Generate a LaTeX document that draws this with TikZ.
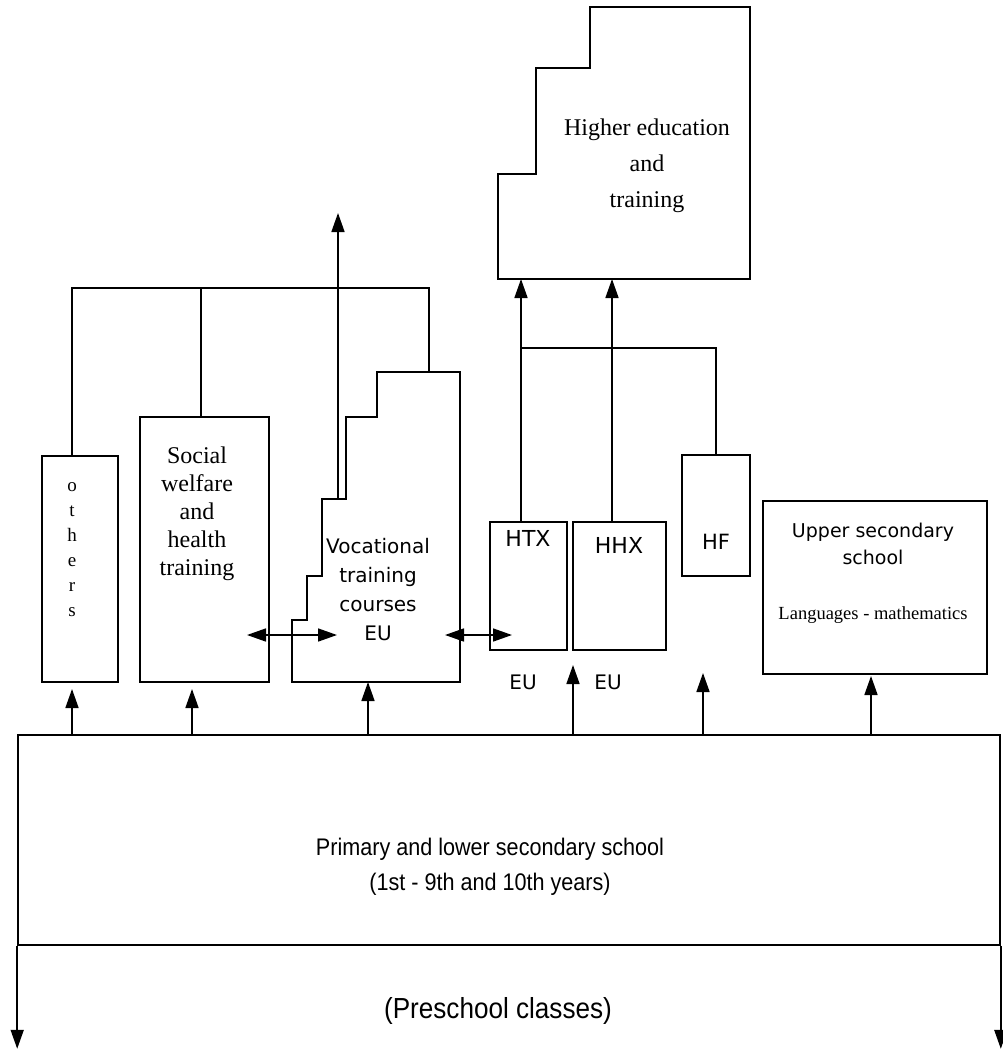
\documentclass[tikz,border=0pt]{standalone}
\usepackage{fontspec}
\setmainfont{Liberation Serif}
\newfontfamily\lucfont{DejaVu Sans}
\newfontfamily\condfont[FakeStretch=0.9]{Liberation Sans}
\usetikzlibrary{arrows.meta}

\begin{document}
\begin{tikzpicture}[x=1pt, y=-1pt, line width=1.6pt,
    every node/.style={inner sep=0pt, align=center},
    box/.style={draw, rectangle},
    arr/.style={-{Triangle[length=19pt,width=13pt]}},
    darr/.style={{Triangle[length=19pt,width=13pt]}-{Triangle[length=19pt,width=13pt]}}]
  \useasboundingbox (0,0) rectangle (1002,1049);

  % Boxes
  \node[box, minimum width=76, minimum height=226] (others) at (80,569) {};
  \node[box, minimum width=129, minimum height=265] (social) at (204.5,549.5) {};
  \node[box, minimum width=77, minimum height=128] (htx) at (528.5,586) {};
  \node[box, minimum width=93, minimum height=128] (hhx) at (619.5,586) {};
  \node[box, minimum width=68, minimum height=121] (hf) at (716,515.5) {};
  \node[box, minimum width=224, minimum height=173] (upper) at (875,587.5) {};
  \node[box, minimum width=982, minimum height=210] (main) at (509,840) {};

  % Stepped boxes
  \coordinate (hesw) at (498,279);
  \draw (hesw) -- (498,174) -- (536,174) -- (536,68) -- (590,68) -- (590,7)
    -- (750,7) -- (750,279) -- cycle;
  \coordinate (vtop) at (377,372);
  \coordinate (vstep) at (338,499);
  \draw (292,682) -- (292,620) -- (307,620) -- (307,576) -- (322,576) -- (322,499)
    -- (346,499) -- (346,417) -- (377,417) -- (vtop) -- (460,372) -- (460,682) -- cycle;

  % Connectors at the top left
  \coordinate (jo) at (72,288);
  \coordinate (js) at (201,288);
  \coordinate (jv) at (429,288);
  \coordinate (out) at (338,213);
  \draw (others.north -| jo) -- (jo) -- (jv) -- (jv |- vtop);
  \draw (social.north -| js) -- (js);
  \draw[arr] (vstep) -- (out);

  % Connectors to higher education
  \coordinate (jhtx) at (521,348);
  \coordinate (jhhx) at (612,348);
  \draw[arr] (htx.north -| jhtx) -- (jhtx |- hesw);
  \draw[arr] (hhx.north -| jhhx) -- (jhhx |- hesw);
  \draw (jhtx) -- (hf.north |- jhtx) -- (hf.north);

  % Arrows out of primary school
  \foreach \x/\y in {72/689, 192/689, 368/682, 573/665, 703/673, 871/676}
    \draw[arr] (main.north -| \x,0) -- (\x,\y);
  \draw[arr] (main.south west) -- ++(0,103);
  \draw[arr] (main.south east) -- ++(0,103);

  % Transfers
  \draw[darr] (247,635) -- (337,635);
  \draw[darr] (445,635) -- (512,635);

  % Labels
  \node[font=\fontsize{24}{36}\selectfont] (hetext) at (647,166) {Higher education\\and\\training};
  \node[font=\fontsize{19}{25}\selectfont] (otext) at (72,550) {o\\t\\h\\e\\r\\s};
  \node[font=\fontsize{24}{28}\selectfont] (stext) at (197,513.5) {Social\\welfare\\and\\health\\training};
  \node[font=\lucfont\fontsize{20}{29}\selectfont] (vtext) at (378,590) {Vocational\\training\\courses\\EU};
  \node[font=\lucfont\fontsize{22}{24}\selectfont] (htxtext) at (528,538) {HTX};
  \node[font=\lucfont\fontsize{22}{24}\selectfont] (hhxtext) at (619,545) {HHX};
  \node[font=\lucfont\fontsize{21}{24}\selectfont] (hftext) at (716,542) {HF};
  \node[font=\lucfont\fontsize{20}{24}\selectfont] (eu1) at (523,682) {EU};
  \node[font=\lucfont\fontsize{20}{24}\selectfont] (eu2) at (608,682) {EU};
  \node[font=\lucfont\fontsize{19}{27}\selectfont] (utext) at (873,544) {Upper secondary\\school};
  \node[font=\fontsize{18.5}{20}\selectfont] (ltext) at (873,615) {Languages - mathematics};
  \node[font=\condfont\fontsize{24}{35}\selectfont] (ptext) at (490,867) {Primary and lower secondary school\\(1st - 9th and 10th years)};
  \node[font=\condfont\fontsize{29}{30}\selectfont] (pstext) at (498,1011) {(Preschool classes)};
\end{tikzpicture}
\end{document}
